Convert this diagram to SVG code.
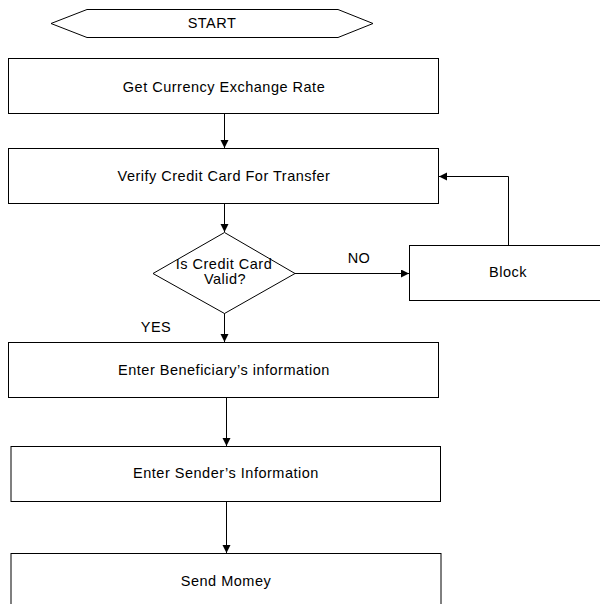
<svg xmlns="http://www.w3.org/2000/svg" width="600" height="604" viewBox="0 0 600 604">
<style>
.shape{fill:#fff;stroke:#000;stroke-width:1}
.lbl{font-family:"Liberation Sans",Arial,sans-serif;font-size:14.5px;letter-spacing:0.5px;fill:#000;text-anchor:middle}
.conn{fill:none;stroke:#000;stroke-width:1}
</style>
<defs>
<marker id="arr" markerUnits="userSpaceOnUse" markerWidth="10" markerHeight="10" refX="8" refY="4" orient="auto">
<path d="M0,0 L8,4 L0,8 Z" fill="#000"/>
</marker>
</defs>
<rect width="600" height="604" fill="#fff"/>
<g id="connectors">
<path class="conn" d="M224.5 113 V148" marker-end="url(#arr)"/>
<path class="conn" d="M224.5 203 V232" marker-end="url(#arr)"/>
<path class="conn" d="M295 273.5 H409" marker-end="url(#arr)"/>
<path class="conn" d="M508.5 245 V176.5 H439" marker-end="url(#arr)"/>
<path class="conn" d="M224.5 313 V342" marker-end="url(#arr)"/>
<path class="conn" d="M226.5 397 V446" marker-end="url(#arr)"/>
<path class="conn" d="M226.5 501 V553" marker-end="url(#arr)"/>
<text class="lbl" x="359" y="263">NO</text>
<text class="lbl" x="156" y="332">YES</text>
</g>
<g id="start">
<polygon class="shape" points="51,23.5 87,9.5 338,9.5 373,23.5 338,37.5 87,37.5"/>
<text class="lbl" x="212" y="28">START</text>
</g>
<g id="get-rate">
<rect class="shape" x="8.5" y="58.5" width="430" height="55"/>
<text class="lbl" x="224" y="92">Get Currency Exchange Rate</text>
</g>
<g id="verify">
<rect class="shape" x="8.5" y="148.5" width="430" height="55"/>
<text class="lbl" x="224" y="181">Verify Credit Card For Transfer</text>
</g>
<g id="valid">
<polygon class="shape" points="224.5,232.5 295,273.5 224.5,313.5 153,273.5"/>
<text class="lbl" x="224" y="269">Is Credit Card</text>
<text class="lbl" x="225" y="284">Valid?</text>
</g>
<g id="block">
<rect class="shape" x="409.5" y="245.5" width="200" height="55"/>
<text class="lbl" x="508" y="277">Block</text>
</g>
<g id="beneficiary">
<rect class="shape" x="8.5" y="342.5" width="430" height="55"/>
<text class="lbl" x="224" y="375">Enter Beneficiary’s information</text>
</g>
<g id="sender">
<rect class="shape" x="11" y="446.5" width="429.5" height="55"/>
<text class="lbl" x="226" y="478">Enter Sender’s Information</text>
</g>
<g id="send">
<rect class="shape" x="11" y="553.5" width="430" height="70"/>
<text class="lbl" x="226" y="586">Send Momey</text>
</g>
</svg>
